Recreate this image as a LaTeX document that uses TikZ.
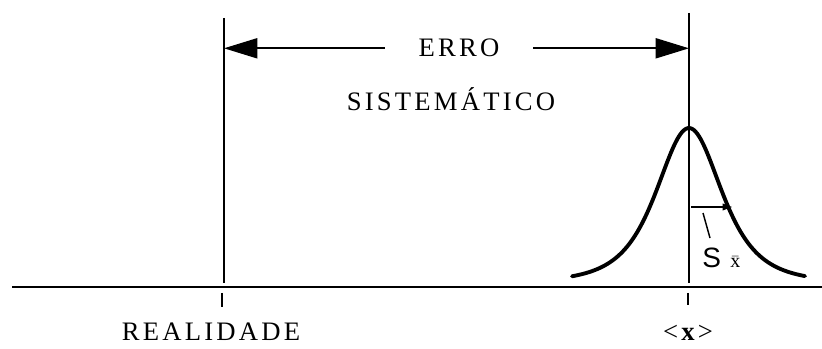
\documentclass[tikz,border=0pt]{standalone}
\usepackage{fontspec}
\setmainfont{Liberation Serif}
\newfontfamily\spaced[LetterSpace=12]{Liberation Serif}
\newfontfamily\sansS{Liberation Sans}
\usetikzlibrary{arrows.meta}
\begin{document}
\begin{tikzpicture}[x=0.75pt,y=-0.75pt,
  lbl/.style={font=\spaced\fontsize{20}{22}\selectfont, inner sep=0pt, anchor=base},
  axis/.style={line width=2.2pt},
  vline/.style={line width=1.1pt},
  tick/.style={line width=1.6pt},
  bigarrow/.style={line width=1.5pt, -{Triangle[length=25pt,width=15pt]}},
  smallarrow/.style={line width=0.9pt, -{Triangle[length=7pt,width=5pt]}},
  curve/.style={line width=2.9pt, line join=round, line cap=round}]
\useasboundingbox (0,0) rectangle (822,349);
% coordinates
\coordinate (bl) at (12,287);
\coordinate (br) at (822,287);
\coordinate (lvtop) at (224,18);
\coordinate (lvbot) at (224,283);
\coordinate (rvtop) at (689,13);
\coordinate (rvbot) at (689,283);
\coordinate (lt1) at (222,293);
\coordinate (lt2) at (222,307);
\coordinate (rt1) at (688,293);
\coordinate (rt2) at (688,305);
\coordinate (sa1) at (691,207);
\coordinate (sa2) at (732,207);
\coordinate (sl1) at (703,213);
\coordinate (sl2) at (710,238);
% axis and verticals
\draw[axis] (bl) -- (br);
\draw[vline] (lvtop) -- (lvbot);
\draw[vline] (rvtop) -- (rvbot);
\draw[tick] (lt1) -- (lt2);
\draw[tick] (rt1) -- (rt2);
% labels
\node[lbl, minimum width=111pt] (erro) at (459,57) {ERRO};
\node[lbl] (sist) at (451,111) {SISTEMÁTICO};
\node[lbl] (real) at (211,340) {REALIDADE};
\node[lbl] (mean) at (688,340) {<\textbf{x}>};
% systematic error arrows
\draw[bigarrow] (erro.west) -- (erro.west -| lvtop);
\draw[bigarrow] (erro.east) -- (erro.east -| rvtop);
% distribution curve
\draw[curve] plot[domain=-117:116, samples=120, smooth] ({689+\x},{283-155/(1+(\x/60)^2)^2});
% standard deviation marker
\draw[smallarrow] (sa1) -- (sa2);
\draw[line width=1.1pt] (sl1) -- (sl2);
\node[font=\sansS\fontsize{21}{24}\selectfont, inner sep=0pt, anchor=base west] (s) at (702,268)
  {S\hspace{7pt}{\fontsize{15}{18}\selectfont$\bar{\mathrm{x}}$}};
\end{tikzpicture}
\end{document}
